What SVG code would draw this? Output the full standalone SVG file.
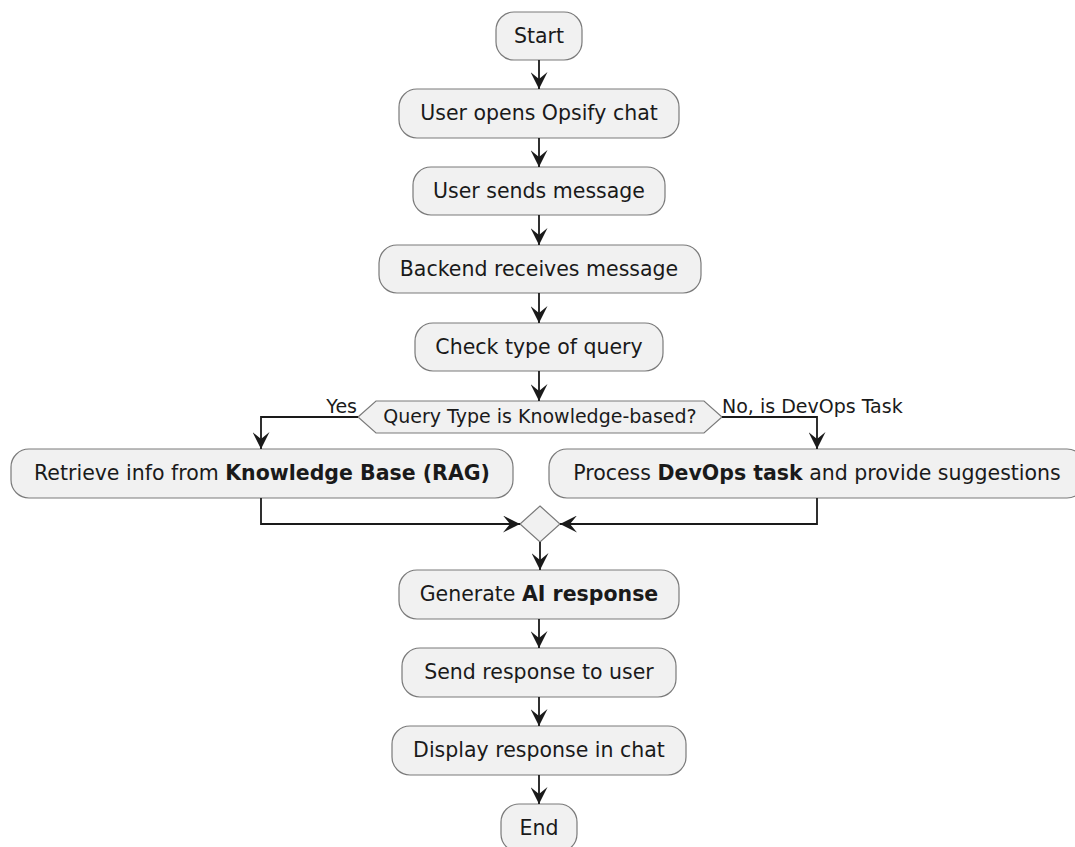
<svg xmlns="http://www.w3.org/2000/svg" width="1075" height="847" viewBox="0 0 1075 847">
<style>
.n{fill:#F1F1F1;stroke:#7a7a7a;stroke-width:1.2}
.t{font-family:"DejaVu Sans",sans-serif;font-size:20.5px;fill:#1a1a1a;text-anchor:middle}
.s{font-family:"DejaVu Sans",sans-serif;font-size:19px;fill:#1a1a1a}
.c{fill:none;stroke:#1a1a1a;stroke-width:1.8;marker-end:url(#a)}
.b{font-weight:bold}
</style>
<defs>
<marker id="a" viewBox="0 0 17 17" refX="17" refY="8.5" markerWidth="17" markerHeight="17" markerUnits="userSpaceOnUse" orient="auto">
<path d="M0,0 L17,8.5 L0,17 L7,8.5 Z" fill="#1a1a1a"/>
</marker>
</defs>
<g id="start"><rect class="n" x="496" y="12" width="86" height="48" rx="18"/><text class="t" x="539" y="43">Start</text></g>
<g id="open"><rect class="n" x="399" y="89" width="280" height="49" rx="18"/><text class="t" x="539" y="120">User opens Opsify chat</text></g>
<g id="send"><rect class="n" x="413" y="167" width="252" height="48" rx="18"/><text class="t" x="539" y="198">User sends message</text></g>
<g id="backend"><rect class="n" x="379" y="245" width="322" height="48" rx="18"/><text class="t" x="539" y="276">Backend receives message</text></g>
<g id="check"><rect class="n" x="415" y="323" width="248" height="48" rx="18"/><text class="t" x="539" y="354">Check type of query</text></g>
<g id="decision"><polygon class="n" points="358,417 376,401 704,401 722,417 704,433 376,433"/><text class="t" x="540" y="423" style="font-size:19px">Query Type is Knowledge-based?</text></g>
<g id="retrieve"><rect class="n" x="11" y="449" width="502" height="49" rx="18"/><text class="t" x="262" y="480">Retrieve info from <tspan class="b">Knowledge Base (RAG)</tspan></text></g>
<g id="process"><rect class="n" x="549" y="449" width="536" height="49" rx="18"/><text class="t" x="817" y="480">Process <tspan class="b">DevOps task</tspan> and provide suggestions</text></g>
<g id="merge"><polygon class="n" points="540,506 560,524 540,542 520,524"/></g>
<g id="generate"><rect class="n" x="399" y="570" width="280" height="49" rx="18"/><text class="t" x="539" y="601">Generate <tspan class="b">AI response</tspan></text></g>
<g id="respond"><rect class="n" x="402" y="648" width="274" height="49" rx="18"/><text class="t" x="539" y="679">Send response to user</text></g>
<g id="display"><rect class="n" x="392" y="726" width="294" height="49" rx="18"/><text class="t" x="539" y="757">Display response in chat</text></g>
<g id="end"><rect class="n" x="501" y="804" width="76" height="48" rx="18"/><text class="t" x="539" y="835">End</text></g>
<g id="connectors">
<path class="c" d="M539,60 V89"/>
<path class="c" d="M539,138 V167"/>
<path class="c" d="M539,215 V245"/>
<path class="c" d="M539,293 V323"/>
<path class="c" d="M539,371 V401"/>
<path class="c" d="M358,417 H261 V449"/>
<path class="c" d="M722,417 H817 V449"/>
<path class="c" d="M261,498 V524 H520"/>
<path class="c" d="M817,498 V524 H560"/>
<path class="c" d="M540,542 V570"/>
<path class="c" d="M539,619 V648"/>
<path class="c" d="M539,697 V726"/>
<path class="c" d="M539,775 V804"/>
<text class="s" x="357" y="413" text-anchor="end">Yes</text>
<text class="s" x="722" y="413">No, is DevOps Task</text>
</g>
</svg>
